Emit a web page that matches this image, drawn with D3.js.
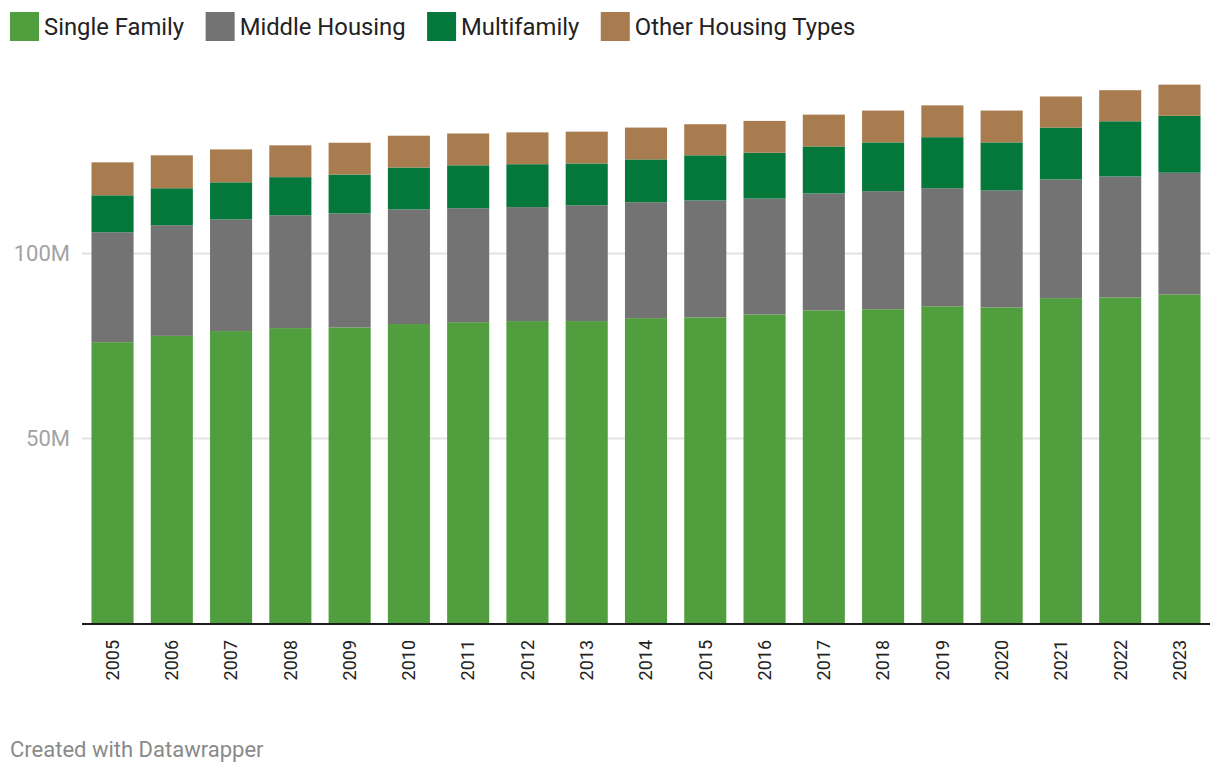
<!DOCTYPE html>
<html>
<head>
<meta charset="utf-8">
<script src="https://cdn.jsdelivr.net/npm/d3@7"></script>
<style>
  html, body { margin: 0; padding: 0; background: #fff; }
  svg { display: block; font-family: Roboto, "Noto Sans", sans-serif; }
</style>
</head>
<body>
<svg id="chart" width="1220" height="776"></svg>
<script>
const years = ["2005","2006","2007","2008","2009","2010","2011","2012","2013","2014","2015","2016","2017","2018","2019","2020","2021","2022","2023"];
// values in millions of housing units
const singleFamily = [75.9,77.6,78.9,79.7,79.9,80.8,81.3,81.6,81.6,82.4,82.6,83.4,84.5,84.8,85.6,85.3,87.8,88.0,88.8];
const middleHousing = [29.7,29.9,30.2,30.5,30.8,31.0,30.8,30.8,31.3,31.3,31.6,31.3,31.6,31.9,31.9,31.6,32.1,32.7,32.9];
const multifamily = [10.0,10.0,10.0,10.3,10.5,11.3,11.6,11.6,11.3,11.6,12.2,12.4,12.7,13.2,13.8,13.0,14.0,14.9,15.4];
const otherTypes = [8.9,8.9,8.9,8.6,8.6,8.6,8.6,8.6,8.6,8.6,8.4,8.6,8.6,8.6,8.6,8.6,8.4,8.4,8.4];
const seriesNames = ["Single Family","Middle Housing","Multifamily","Other Housing Types"];
const seriesColors = ["#519e3e","#737373","#04773b","#a87c4f"];
const yTicks = [50, 100];
const footerText = "Created with Datawrapper";

const svg = d3.select("#chart");

const rows = years.map((y, i) => ({
  year: y,
  "Single Family": singleFamily[i],
  "Middle Housing": middleHousing[i],
  "Multifamily": multifamily[i],
  "Other Housing Types": otherTypes[i]
}));
const stack = d3.stack().keys(seriesNames)(rows);

const x = d3.scaleBand().domain(years).range([82, 1210]).paddingInner(0.29).paddingOuter(0.16);
const y = d3.scaleLinear().domain([0, 100]).range([623, 253]);
const color = d3.scaleOrdinal().domain(seriesNames).range(seriesColors);

// gridlines
svg.append("g").selectAll("line").data(yTicks).join("line")
  .attr("x1", 82).attr("x2", 1210)
  .attr("y1", d => Math.round(y(d)) + 0.5).attr("y2", d => Math.round(y(d)) + 0.5)
  .attr("stroke", "#e3e3e3").attr("stroke-width", 2);

// y labels
svg.append("g").selectAll("text").data(yTicks).join("text")
  .attr("x", 70).attr("y", d => y(d))
  .attr("dy", "0.35em")
  .attr("text-anchor", "end")
  .attr("font-size", 22)
  .attr("fill", "#a3a3a3")
  .text(d => d + "M");

// bars
svg.append("g").selectAll("g").data(stack).join("g")
  .attr("fill", d => color(d.key))
  .selectAll("rect").data(d => d).join("rect")
  .attr("x", d => x(d.data.year))
  .attr("width", x.bandwidth())
  .attr("y", d => y(d[1]))
  .attr("height", d => y(d[0]) - y(d[1]));

// baseline axis
svg.append("line")
  .attr("x1", 82).attr("x2", 1210)
  .attr("y1", 624).attr("y2", 624)
  .attr("stroke", "#1a1a1a").attr("stroke-width", 2);

// x labels
svg.append("g").selectAll("text").data(years).join("text")
  .attr("transform", d => `translate(${x(d) + x.bandwidth() / 2},640) rotate(-90)`)
  .attr("text-anchor", "end")
  .attr("dy", "0.35em")
  .attr("font-size", 18)
  .attr("fill", "#222")
  .text(d => d);

// legend
const legend = svg.append("g");
let lx = 10;
seriesNames.forEach((name, i) => {
  legend.append("rect").attr("x", lx).attr("y", 12).attr("width", 29).attr("height", 29).attr("fill", seriesColors[i]);
  const t = legend.append("text").attr("x", lx + 34).attr("y", 26.5).attr("dy", "0.35em")
    .attr("font-size", 23.8).attr("fill", "#222").text(name);
  lx += 34 + t.node().getComputedTextLength() + 21.5;
});

// footer
svg.append("text").attr("x", 10).attr("y", 757)
  .attr("font-size", 22).attr("fill", "#8a8a8a").text(footerText);
</script>
</body>
</html>
